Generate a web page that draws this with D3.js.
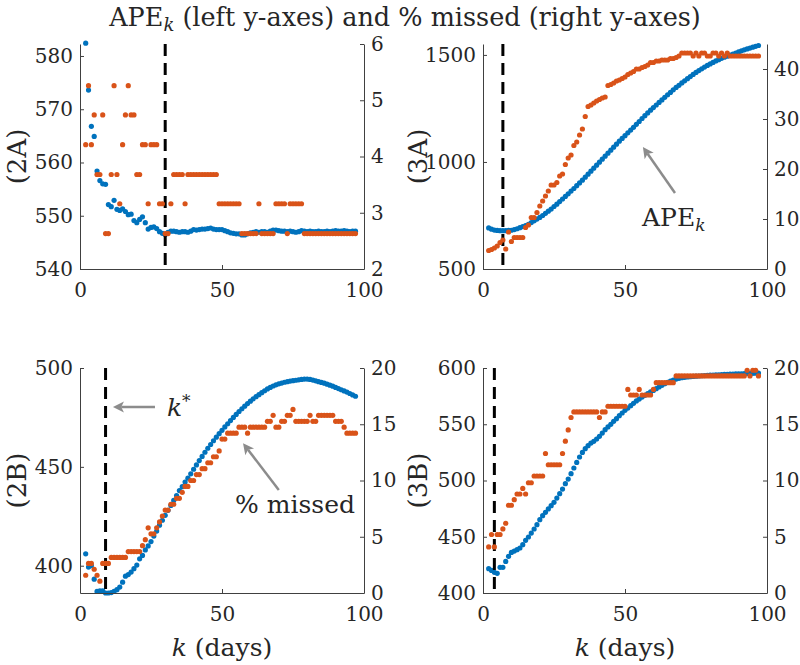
<!DOCTYPE html>
<html><head><meta charset="utf-8">
<script src="https://cdn.jsdelivr.net/npm/d3@7"></script>
<style>
body{margin:0;background:#fff;}
text{font-family:"DejaVu Serif","Liberation Serif",serif;fill:#262626;}
</style></head><body>
<svg id="chart" width="800" height="665"></svg>
<script>
// ---------- data ----------
const days = [2,3,4,5,6,7,8,9,10,11,12,13,14,15,16,17,18,19,20,21,22,23,24,25,26,27,28,29,30,31,32,33,34,35,36,37,38,39,40,41,42,43,44,45,46,47,48,49,50,51,52,53,54,55,56,57,58,59,60,61,62,63,64,65,66,67,68,69,70,71,72,73,74,75,76,77,78,79,80,81,82,83,84,85,86,87,88,89,90,91,92,93,94,95,96,97];
const xTicks = [0, 50, 100];

const ape2A = [582.4,573.6,566.8,564.9,558.4,556.6,556.0,555.9,552.1,551.7,
  552.9,551.2,551.0,551.3,550.8,550.2,550.3,549.1,548.7,549.3,
  549.8,548.7,547.5,547.8,547.9,547.6,547.0,546.7,546.5,546.9,
  547.1,547.1,547.0,546.9,547.0,547.0,546.9,547.1,547.4,547.3,
  547.4,547.5,547.5,547.6,547.7,547.5,547.4,547.4,547.4,547.2,
  547.0,546.8,546.7,546.6,546.6,546.4,546.4,546.6,546.8,546.9,
  547.0,546.9,547.0,547.0,546.9,547.1,547.3,547.3,547.2,547.1,
  547.1,547.0,547.1,547.0,546.9,547.0,547.2,547.1,547.0,547.1,
  547.0,547.0,547.1,547.0,547.0,547.1,547.0,547.1,547.2,547.1,
  547.1,547.2,547.1,547.0,547.1,547.1];
const missed2A = [4.21,5.26,4.21,4.74,3.68,3.68,4.74,2.63,2.63,3.68,
  5.26,3.68,3.16,4.21,4.74,5.26,4.74,4.74,3.68,3.68,
  4.21,4.21,3.16,4.21,4.21,4.21,3.16,3.16,2.63,2.63,
  3.16,3.68,3.68,3.68,3.68,3.16,3.68,3.68,3.68,3.68,
  3.68,3.68,3.68,3.68,3.68,3.68,3.68,3.16,3.16,3.16,
  3.16,3.16,3.16,3.16,3.16,2.63,2.63,2.63,2.63,2.63,
  2.63,3.16,2.63,2.63,2.63,2.63,2.63,3.16,3.16,3.16,
  3.16,2.63,3.16,3.16,3.16,3.16,3.16,2.63,2.63,2.63,
  2.63,2.63,2.63,2.63,2.63,2.63,2.63,2.63,2.63,2.63,
  2.63,2.63,2.63,2.63,2.63,2.63];

const ape3A = [692,686,682,680,679,679,679,680,681,684,
  688,693,698,703,709,717,725,733,741,750,
  760,770,780,792,803,815,827,839,851,864,
  876,889,902,915,929,943,957,971,985,999,
  1013,1027,1041,1055,1069,1083,1097,1110,1123,1136,
  1149,1162,1176,1189,1203,1216,1229,1242,1254,1266,
  1278,1290,1302,1314,1325,1337,1348,1358,1369,1379,
  1389,1399,1409,1418,1427,1435,1443,1451,1458,1465,
  1472,1478,1484,1489,1494,1499,1504,1509,1514,1519,
  1524,1528,1532,1536,1540,1544];
const missed3A = [3.7,3.9,4.2,4.6,5.3,5.8,4.0,7.4,5.5,6.3,
  6.3,6.3,6.3,8.3,8.8,10.3,10.3,11.3,12.6,13.6,
  14.6,15.6,16.8,16.8,17.3,18.6,19.0,20.9,22.2,22.8,
  24.7,25.4,26.8,28.0,30.5,32.5,32.8,33.2,33.6,33.9,
  34.2,34.4,36.7,36.9,37.2,37.6,37.8,38.1,38.4,38.9,
  39.2,39.5,40.0,40.0,40.3,40.5,40.8,41.3,41.3,41.6,
  41.6,41.8,41.8,41.8,42.1,42.1,42.3,42.6,43.2,43.2,
  43.2,43.2,42.6,43.2,42.6,43.2,43.2,42.6,42.6,43.2,
  43.2,42.6,43.2,42.6,43.2,42.6,42.6,42.6,42.6,42.6,
  42.6,42.6,42.6,42.6,42.6,42.6];

const ape2B = [406.0,399.3,400.0,393.2,387.0,387.3,387.3,386.2,386.2,386.4,
  387.0,387.9,389.2,391.7,394.7,395.5,396.8,398.5,400.3,403.5,
  405.2,408.0,410.0,412.2,415.0,417.5,420.5,423.0,425.5,428.0,
  430.5,433.0,435.5,438.0,440.0,442.3,444.3,446.5,448.8,451.0,
  453.2,455.3,457.4,459.4,461.3,463.2,465.0,466.8,468.5,470.2,
  471.8,473.4,475.0,476.5,478.0,479.4,480.7,482.0,483.2,484.4,
  485.5,486.5,487.5,488.5,489.4,490.2,490.9,491.5,492.0,492.4,
  492.8,493.1,493.4,493.6,493.8,494.0,494.2,494.4,494.4,494.2,
  493.9,493.5,493.1,492.7,492.3,491.8,491.3,490.8,490.2,489.6,
  489.0,488.4,487.8,487.1,486.4,485.7];
const missed2B = [1.58,2.63,2.63,2.11,1.58,1.05,2.63,2.63,2.63,3.16,
  3.16,3.16,3.16,3.16,3.16,3.68,3.68,3.68,3.68,3.68,
  4.21,4.74,5.79,5.26,5.26,5.79,6.32,6.84,7.37,7.37,
  7.89,7.89,8.42,8.42,8.95,9.47,9.47,10.0,10.0,10.53,
  10.53,11.05,11.05,11.58,11.58,12.11,12.11,12.63,13.68,13.68,
  14.21,14.21,14.21,14.21,14.74,14.74,14.74,14.21,14.74,14.74,
  14.74,14.74,14.74,14.74,15.26,15.26,15.79,14.74,14.74,15.26,
  15.26,15.79,15.79,16.32,15.26,15.26,15.26,15.26,15.26,15.79,
  15.26,15.26,15.79,15.79,15.79,15.79,15.79,15.79,15.26,15.26,
  15.26,14.74,14.21,14.21,14.21,14.21];

const ape3B = [421.6,420.1,418.4,417.5,422.8,422.8,428.1,432.6,436.1,437.3,
  438.5,440.0,443.0,446.8,449.8,453.3,456.9,460.7,465.2,468.7,
  471.7,474.7,477.6,480.6,484.4,488.3,492.4,497.2,501.3,506.1,
  511.1,516.1,520.9,525.0,528.3,531.0,533.3,534.8,536.9,539.3,
  542.2,545.2,547.6,549.9,552.6,555.0,557.6,560.0,562.4,564.4,
  566.5,568.6,570.7,572.4,574.2,575.7,577.2,578.7,580.1,581.6,
  583.1,584.6,586.1,587.3,588.4,589.3,590.2,590.8,591.4,591.7,
  592.0,592.3,592.5,592.7,592.9,593.1,593.3,593.4,593.6,593.7,
  593.9,594.0,594.1,594.3,594.4,594.5,594.6,594.7,594.8,594.9,
  595.0,595.1,595.2,595.3,595.4,595.5];
const missed3B = [4.1,5.2,4.1,5.2,5.2,5.7,6.2,7.8,7.8,8.3,
  8.8,8.8,9.3,8.8,9.8,9.8,10.4,10.4,10.4,10.4,
  12.4,11.4,11.4,11.4,11.4,11.4,12.4,13.5,14.5,15.6,
  16.1,16.1,16.1,16.1,16.1,16.1,16.1,16.1,16.1,15.6,
  16.1,16.1,16.6,16.6,16.6,16.6,16.6,16.6,16.6,18.1,
  17.6,17.6,17.6,18.1,17.6,17.6,17.6,17.6,18.1,18.7,
  18.7,18.7,18.7,18.7,18.7,18.7,19.3,19.3,19.3,19.3,
  19.3,19.3,19.3,19.3,19.3,19.3,19.3,19.3,19.3,19.3,
  19.3,19.3,19.3,19.3,19.3,19.3,19.3,19.3,19.3,19.3,
  19.3,19.8,19.3,19.8,19.8,19.3];

const panelNames = ["(2A)", "(3A)", "(2B)", "(3B)"];
const leftDomains = [[540, 582.25], [500, 1551], [386.2, 500], [400, 600]];
const rightDomains = [[2, 6], [0, 45], [0, 20], [0, 20]];
const leftTicks = [[540,550,560,570,580], [500,1000,1500], [400,450,500], [400,450,500,550,600]];
const rightTicks = [[2,3,4,5,6], [0,10,20,30,40], [0,5,10,15,20], [0,5,10,15,20]];
const kStar = [30, 7, 9, 4];
const apeSeries = [ape2A, ape3A, ape2B, ape3B];
const missedSeries = [missed2A, missed3A, missed2B, missed3B];

// ---------- drawing ----------
const svg = d3.select("#chart");
const BLUE = "#0072BD", ORANGE = "#D95319", AX = "#404040", ARROW = "#8c8c8c";
const cols = [[80, 364], [483, 767]];
const rows = [[44, 269], [368, 593]];
const labelOffset = [63, 65];
const fmt = d3.format("d");

function styleAxis(g) {
  g.selectAll("path.domain").attr("stroke", AX).attr("stroke-width", 1);
  g.selectAll(".tick line").attr("stroke", AX);
  g.selectAll(".tick text").attr("font-size", 20).attr("fill", "#262626")
    .attr("font-family", '"DejaVu Serif", serif');
}

const scales = [];
for (let i = 0; i < 4; i++) {
  const [l, r] = cols[i % 2];
  const [t, b] = rows[Math.floor(i / 2)];
  const x = d3.scaleLinear([0, 100], [l, r]);
  const yL = d3.scaleLinear(leftDomains[i], [b, t]);
  const yR = d3.scaleLinear(rightDomains[i], [b, t]);
  scales.push({x, yL, yR});
  const g = svg.append("g");

  // blue APE points
  g.append("g").selectAll("circle").data(days.map((d, j) => [d, apeSeries[i][j]]))
    .join("circle").attr("cx", d => x(d[0])).attr("cy", d => yL(d[1]))
    .attr("r", 2.6).attr("fill", BLUE);

  // k* dashed line
  g.append("line").attr("x1", x(kStar[i])).attr("x2", x(kStar[i]))
    .attr("y1", t).attr("y2", b).attr("stroke", "#000").attr("stroke-width", 3)
    .attr("stroke-dasharray", "12,7");

  // orange missed points
  g.append("g").selectAll("circle").data(days.map((d, j) => [d, missedSeries[i][j]]))
    .join("circle").attr("cx", d => x(d[0])).attr("cy", d => yR(d[1]))
    .attr("r", 2.6).attr("fill", ORANGE);

  // axes
  const ax = g.append("g").attr("transform", `translate(0,${b})`)
    .call(d3.axisBottom(x).tickValues(xTicks).tickFormat(fmt).tickSize(-4).tickSizeOuter(0).tickPadding(14));
  styleAxis(ax);
  const ayl = g.append("g").attr("transform", `translate(${l},0)`)
    .call(d3.axisLeft(yL).tickValues(leftTicks[i]).tickFormat(fmt).tickSize(-4).tickSizeOuter(0).tickPadding(7));
  styleAxis(ayl);
  const ayr = g.append("g").attr("transform", `translate(${r},0)`)
    .call(d3.axisRight(yR).tickValues(rightTicks[i]).tickFormat(fmt).tickSize(-4).tickSizeOuter(0).tickPadding(7));
  styleAxis(ayr);

  // panel label
  g.append("text").attr("transform", `translate(${l - labelOffset[i % 2]},${(t + b) / 2}) rotate(-90)`)
    .attr("text-anchor", "middle").attr("dy", "0.35em").attr("font-size", 26)
    .text(panelNames[i]);

  // x label (bottom row)
  if (i >= 2) {
    const xl = g.append("text").attr("x", (l + r) / 2).attr("y", 656)
      .attr("text-anchor", "middle").attr("font-size", 25);
    xl.append("tspan").attr("font-style", "italic").text("k");
    xl.append("tspan").text(" (days)");
  }
}

// title
const title = svg.append("text").attr("x", 405).attr("y", 26).attr("text-anchor", "middle")
  .attr("font-size", 25.5);
title.append("tspan").text("APE");
title.append("tspan").attr("font-style", "italic").attr("font-size", 18).attr("dy", 5).text("k");
title.append("tspan").attr("dy", -5).text(" (left y-axes) and % missed (right y-axes)");

// arrows
function arrow(x1, y1, x2, y2) {
  const ang = Math.atan2(y2 - y1, x2 - x1);
  const L = 11, Wd = 5.5;
  const bx = x2 - L * Math.cos(ang), by = y2 - L * Math.sin(ang);
  const nx = -Math.sin(ang), ny = Math.cos(ang);
  const mx = x2 - L * 0.75 * Math.cos(ang), my = y2 - L * 0.75 * Math.sin(ang);
  svg.append("line").attr("x1", x1).attr("y1", y1).attr("x2", mx).attr("y2", my)
    .attr("stroke", ARROW).attr("stroke-width", 2.5);
  svg.append("path").attr("d",
    `M${x2},${y2}L${bx + nx * Wd},${by + ny * Wd}L${mx},${my}L${bx - nx * Wd},${by - ny * Wd}Z`)
    .attr("fill", ARROW);
}
// 3A: APE_k
{
  const s = scales[1];
  arrow(s.x(67.6), s.yL(855), s.x(56.3), s.yL(1070));
  const tx = svg.append("text").attr("x", s.x(56)).attr("y", s.yL(700)).attr("font-size", 25);
  tx.append("tspan").text("APE");
  tx.append("tspan").attr("font-style", "italic").attr("font-size", 17).attr("dy", 5).text("k");
}
// 2B: k* and % missed
{
  const s = scales[2];
  arrow(s.x(26.4), s.yL(480.3), s.x(11.6), s.yL(480.3));
  const tk = svg.append("text").attr("x", s.x(30.6)).attr("y", s.yL(475.7)).attr("font-size", 25);
  tk.append("tspan").attr("font-style", "italic").text("k");
  tk.append("tspan").attr("font-size", 17).attr("dy", -9).text("*");
  arrow(s.x(70), s.yL(438.3), s.x(57.4), s.yL(462));
  svg.append("text").attr("x", s.x(54.6)).attr("y", s.yL(426.7)).attr("font-size", 25)
    .text("% missed");
}
</script>
</body></html>
